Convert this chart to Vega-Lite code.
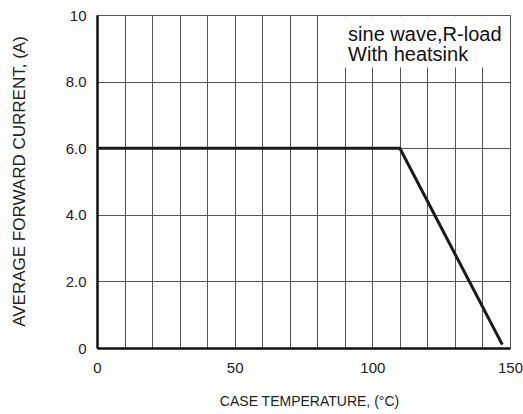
{
  "$schema": "https://vega.github.io/schema/vega-lite/v6.json",
  "width": 413,
  "height": 333,
  "autosize": {"type": "none"},
  "padding": {"left": 97, "top": 15, "right": 13, "bottom": 66},
  "background": "white",
  "view": {"stroke": "#777", "strokeWidth": 1},
  "datasets": {
    "curve": [
      {"x": 0, "y": 6.0},
      {"x": 110, "y": 6.0},
      {"x": 147.2, "y": 0.1}
    ],
    "box": [
      {"x": 89.4, "x2": 149.6, "y": 8.42, "y2": 9.96}
    ],
    "note": [
      {"x": 91.2, "y": 9.22, "label": ["sine wave,R-load", "With heatsink"]}
    ]
  },
  "encoding": {
    "x": {
      "field": "x", "type": "quantitative",
      "scale": {"domain": [0, 150], "nice": false, "zero": false},
      "axis": {
        "values": [0, 10, 20, 30, 40, 50, 60, 70, 80, 90, 100, 110, 120, 130, 140, 150],
        "labelExpr": "datum.value % 50 === 0 ? datum.label : ''",
        "labelOverlap": false,
        "labelFlush": false,
        "grid": true,
        "gridColor": "#555",
        "gridWidth": 1,
        "ticks": false,
        "domain": true,
        "domainColor": "#111",
        "domainWidth": 2.5,
        "labelFont": "Liberation Sans",
        "labelFontSize": 15,
        "labelColor": "#222",
        "labelPadding": 12,
        "title": "CASE TEMPERATURE, (°C)",
        "titleFont": "Liberation Sans",
        "titleFontSize": 14,
        "titleFontWeight": "normal",
        "titleColor": "#222",
        "titleBaseline": "top",
        "titleAlign": "center",
        "titleX": 212,
        "titleY": 46
      }
    },
    "y": {
      "field": "y", "type": "quantitative",
      "scale": {"domain": [0, 10], "nice": false, "zero": false},
      "axis": {
        "values": [0, 2, 4, 6, 8, 10],
        "labelExpr": "datum.value === 0 ? '0' : datum.value === 10 ? '10' : format(datum.value, '.1f')",
        "labelOverlap": false,
        "labelFlush": false,
        "grid": true,
        "gridColor": "#555",
        "gridWidth": 1,
        "ticks": false,
        "domain": true,
        "domainColor": "#111",
        "domainWidth": 2.5,
        "labelFont": "Liberation Sans",
        "labelFontSize": 15,
        "labelColor": "#222",
        "labelPadding": 11,
        "title": "AVERAGE FORWARD CURRENT, (A)",
        "titleFont": "Liberation Sans",
        "titleFontSize": 17,
        "titleFontWeight": "normal",
        "titleColor": "#222",
        "titleX": -78,
        "titleY": 166,
        "titleAngle": -90,
        "titleBaseline": "middle",
        "titleAlign": "center"
      }
    }
  },
  "layer": [
    {
      "data": {"name": "curve"},
      "mark": {"type": "line", "color": "#1a1a1a", "strokeWidth": 3, "clip": true}
    },
    {
      "data": {"name": "box"},
      "mark": {"type": "rect", "fill": "white", "stroke": null},
      "encoding": {
        "x2": {"field": "x2"},
        "y2": {"field": "y2"}
      }
    },
    {
      "data": {"name": "note"},
      "mark": {"type": "text", "align": "left", "baseline": "alphabetic", "font": "Liberation Sans", "fontSize": 20, "lineHeight": 20, "color": "#111"},
      "encoding": {
        "text": {"field": "label"}
      }
    }
  ]
}
